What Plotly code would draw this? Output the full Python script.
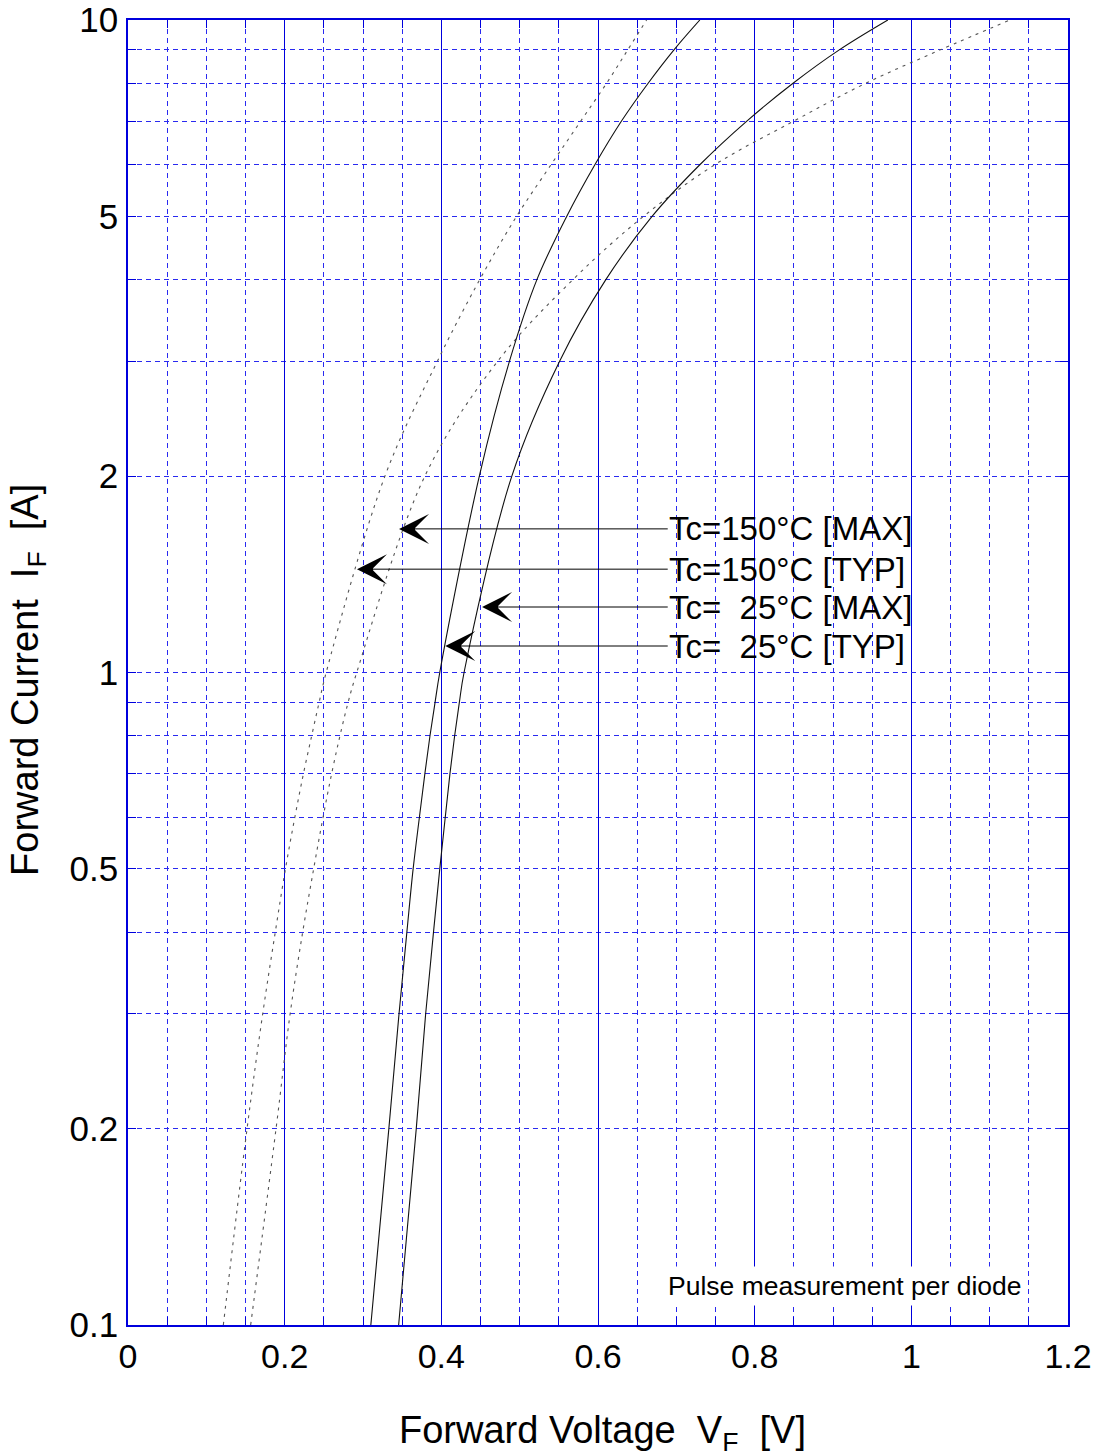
import math
import plotly.graph_objects as go

# Forward current levels (A) at which each curve was read
current = [0.1, 0.2, 0.3, 0.4, 0.5, 0.6, 0.7, 0.8, 0.9, 1, 2, 3, 4, 5, 6, 7, 8, 9, 10]

# Forward voltage (V) for each curve at those currents
vf_25_typ = [0.310, 0.333, 0.346, 0.356, 0.364, 0.372, 0.379, 0.3855, 0.392, 0.398,
             0.4485, 0.487, 0.522, 0.560, 0.596, 0.630, 0.664, 0.697, 0.730]
vf_25_max = [0.3455, 0.368, 0.380, 0.390, 0.398, 0.405, 0.411, 0.417, 0.423, 0.429,
             0.490, 0.551, 0.610, 0.669, 0.730, 0.790, 0.849, 0.908, 0.970]
vf_150_typ = [0.1217, 0.152, 0.172, 0.188, 0.201, 0.213, 0.224, 0.2345, 0.244, 0.253,
              0.328, 0.395, 0.449, 0.496, 0.540, 0.578, 0.611, 0.638, 0.662]
vf_150_max = [0.1566, 0.189, 0.207, 0.223, 0.237, 0.249, 0.260, 0.2706, 0.281, 0.292,
              0.379, 0.472, 0.568, 0.658, 0.749, 0.850, 0.942, 1.037, 1.126]

# Callout labels and where their arrows point (V, A)
label_text = ["Tc=150°C [MAX]", "Tc=150°C [TYP]", "Tc=\u00a0\u00a025°C [MAX]", "Tc=\u00a0\u00a025°C [TYP]"]
label_tip_v = [0.346, 0.2923, 0.452, 0.405]
label_tip_i = [1.66, 1.44, 1.26, 1.098]
label_tail_v = 0.689
note_text = "Pulse measurement per diode"
note_v, note_i = 0.683, 0.1148

# Axis ticks
x_ticks = [0, 0.2, 0.4, 0.6, 0.8, 1.0, 1.2]
x_ticktext = ["0", "0.2", "0.4", "0.6", "0.8", "1", "1.2"]
y_ticks = [0.1, 0.2, 0.5, 1, 2, 5, 10]
y_ticktext = ["0.1", "0.2", "0.5", "1", "2", "5", "10"]
y_minor = [0.3, 0.4, 0.6, 0.7, 0.8, 0.9, 3, 4, 6, 7, 8, 9]

FONT = "Arial, 'Liberation Sans', sans-serif"
BLUE = "#0000DD"
DASHBLUE = "#2A2AF0"

fig = go.Figure()

solid = dict(color="#111111", width=1.1, shape="spline", smoothing=1.0)
dashed = dict(color="#555555", width=1.1, dash="3px,5px", shape="spline", smoothing=1.0)

fig.add_trace(go.Scatter(x=vf_150_max, y=current, mode="lines", line=dashed, name="150 MAX"))
fig.add_trace(go.Scatter(x=vf_150_typ, y=current, mode="lines", line=dashed, name="150 TYP"))
fig.add_trace(go.Scatter(x=vf_25_max, y=current, mode="lines", line=solid, name="25 MAX"))
fig.add_trace(go.Scatter(x=vf_25_typ, y=current, mode="lines", line=solid, name="25 TYP"))

annotations = []
for txt, tv, ti in zip(label_text, label_tip_v, label_tip_i):
    ly = math.log10(ti)
    annotations.append(dict(
        x=tv, y=ly, xref="x", yref="y", ax=label_tail_v, ay=ly, axref="x", ayref="y",
        text=txt, showarrow=True, arrowhead=3, arrowsize=5.0, arrowwidth=1,
        arrowcolor="black", standoff=0, xanchor="left", yanchor="middle", borderpad=0,
        font=dict(family=FONT, size=33, color="black")))

annotations.append(dict(
    x=note_v, y=math.log10(note_i), xref="x", yref="y", text=note_text, showarrow=False,
    xanchor="left", yanchor="middle", bgcolor="white", borderpad=4,
    font=dict(family=FONT, size=26.5, color="black")))

# Axis titles placed as paper annotations
annotations.append(dict(
    x=0.5048, y=-0.0825, xref="paper", yref="paper", showarrow=False,
    text="Forward Voltage  V<sub>F</sub>  [V]", xanchor="center", yanchor="middle",
    font=dict(family=FONT, size=38, color="black")))
annotations.append(dict(
    x=-0.1064, y=0.4943, xref="paper", yref="paper", showarrow=False, textangle=-90,
    text="Forward Current  I<sub>F</sub>  [A]", xanchor="center", yanchor="middle",
    font=dict(family=FONT, size=38, color="black")))

fig.update_layout(
    width=1101, height=1456,
    margin=dict(l=128, r=33, t=20, b=131),
    paper_bgcolor="white", plot_bgcolor="white",
    showlegend=False,
    font=dict(family=FONT, color="black"),
    annotations=annotations,
)

fig.update_xaxes(
    range=[0, 1.2], tickmode="array", tickvals=x_ticks, ticktext=x_ticktext,
    automargin=False, ticklabeloverflow="allow",
    showgrid=True, gridcolor=BLUE, gridwidth=1,
    ticks="inside", ticklen=8, tickcolor=BLUE, tickwidth=1,
    showline=True, linecolor=BLUE, linewidth=1.5, mirror="allticks",
    tickfont=dict(family=FONT, size=34, color="black"),
    ticklabelstandoff=0,
    zeroline=False,
    minor=dict(dtick=0.05, tick0=0, ticks="inside", ticklen=8, tickcolor=BLUE,
               showgrid=True, gridcolor=DASHBLUE, griddash="5px,4px", gridwidth=1),
)

fig.update_yaxes(
    type="log", range=[-1, 1], tickmode="array", tickvals=y_ticks, ticktext=y_ticktext,
    automargin=False, ticklabeloverflow="allow",
    showgrid=True, gridcolor=DASHBLUE, griddash="5px,4px", gridwidth=1,
    ticks="inside", ticklen=8, tickcolor=BLUE, tickwidth=1,
    showline=True, linecolor=BLUE, linewidth=1.5, mirror="allticks",
    tickfont=dict(family=FONT, size=35, color="black"),
    ticklabelstandoff=1,
    zeroline=False,
    minor=dict(tickvals=y_minor, ticks="inside", ticklen=8, tickcolor=BLUE,
               showgrid=True, gridcolor=DASHBLUE, griddash="5px,4px", gridwidth=1),
)

# remove the browser's default page margin so the figure sits at the window origin
fig.write_html("out.html", config={"displayModeBar": False},
               post_script="document.body.style.margin='0';")
